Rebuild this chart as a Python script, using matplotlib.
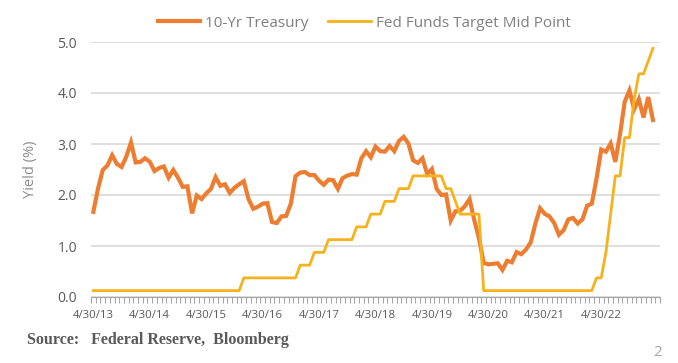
import matplotlib.pyplot as plt

# Datos mensuales, fin de mes, abr 2013 - mar 2023
treasury_10y = [
    1.67, 2.13, 2.49, 2.58, 2.78, 2.61, 2.55, 2.75, 3.03,
    2.64, 2.65, 2.72, 2.65, 2.47, 2.53, 2.56, 2.34, 2.49, 2.34, 2.16, 2.17,
    1.64, 1.99, 1.92, 2.03, 2.12, 2.35, 2.18, 2.21, 2.04, 2.14, 2.21, 2.27,
    1.92, 1.73, 1.77, 1.83, 1.84, 1.47, 1.45, 1.58, 1.59, 1.83, 2.37, 2.44,
    2.45, 2.39, 2.39, 2.28, 2.20, 2.30, 2.29, 2.12, 2.33, 2.38, 2.41, 2.40,
    2.72, 2.86, 2.74, 2.95, 2.86, 2.85, 2.96, 2.86, 3.06, 3.14, 3.01, 2.68,
    2.63, 2.72, 2.41, 2.51, 2.12, 2.00, 2.01, 1.50, 1.68, 1.69, 1.78, 1.92,
    1.51, 1.15, 0.67, 0.64, 0.65, 0.66, 0.53, 0.71, 0.68, 0.88, 0.84, 0.93,
    1.07, 1.44, 1.74, 1.63, 1.58, 1.45, 1.22, 1.31, 1.52, 1.55, 1.44, 1.52,
    1.79, 1.83, 2.32, 2.89, 2.85, 3.01, 2.65, 3.19, 3.83, 4.05, 3.68, 3.88,
    3.52, 3.92, 3.47,
]

fed_funds_mid = (
    [0.125] * 32            # abr 2013 - nov 2015
    + [0.375] * 12          # dic 2015 - nov 2016
    + [0.625] * 3
    + [0.875] * 3
    + [1.125] * 6
    + [1.375] * 3
    + [1.625] * 3
    + [1.875] * 3
    + [2.125] * 3
    + [2.375] * 7           # dic 2018 - jun 2019
    + [2.125] * 2
    + [1.875]
    + [1.625] * 5           # oct 2019 - feb 2020
    + [0.125] * 24          # mar 2020 - feb 2022
    + [0.375, 0.375, 0.875, 1.625, 2.375, 2.375, 3.125, 3.125, 3.875, 4.375,
       4.375, 4.625, 4.875]
)

year_labels = ["4/30/13", "4/30/14", "4/30/15", "4/30/16", "4/30/17",
               "4/30/18", "4/30/19", "4/30/20", "4/30/21", "4/30/22"]

orange = "#ED7D31"
gold = "#F7B21B"
gray = "#595959"

plt.rcParams['font.family'] = ['Open Sans', 'DejaVu Sans']

fig = plt.figure(figsize=(6.78, 3.63), dpi=100)
ax = fig.add_axes([91 / 678, 1 - 297 / 363, 569 / 678, 255 / 363])

x = list(range(len(treasury_10y)))
ax.plot(x, treasury_10y, color=orange, lw=3.0, label="10-Yr Treasury", solid_joinstyle="miter")
ax.plot(x, fed_funds_mid, color=gold, lw=2.0, label="Fed Funds Target Mid Point")

ax.set_xlim(-0.5, 120.5)
ax.set_ylim(0, 5.0)
ax.set_yticks([0, 1, 2, 3, 4, 5])
ax.set_yticklabels(["0.0", "1.0", "2.0", "3.0", "4.0", "5.0"])
ax.yaxis.grid(True, color="#D9D9D9", lw=1.2)
ax.set_axisbelow(True)

ax.set_xticks([i * 12 for i in range(len(year_labels))])
ax.set_xticklabels(year_labels)
ax.set_xticks([i - 0.5 for i in range(122)], minor=True)
ax.tick_params(axis="x", which="major", length=0, pad=9, labelsize=8.2, labelcolor=gray)
ax.tick_params(axis="x", which="minor", length=4, color="#A6A6A6", width=0.8)
ax.tick_params(axis="y", length=0, pad=10, labelsize=10, labelcolor=gray)

for s in ["top", "right", "left"]:
    ax.spines[s].set_visible(False)
ax.spines["bottom"].set_color("#A6A6A6")

ax.set_ylabel("Yield (%)", color="#8C8C8C", fontsize=10.5, labelpad=14)

ax.legend(loc="lower center", bbox_to_anchor=(0.48, 1.02), ncol=2, frameon=False,
          fontsize=11, labelcolor="#7F7F7F", handlelength=2.8, handletextpad=0.3,
          columnspacing=1.3, borderaxespad=0)

fig.text(27 / 678, 1 - 340 / 363, "Source:   Federal Reserve,  Bloomberg", family="Liberation Serif",
         fontweight="bold", fontsize=11.5, color=gray, va="center")
fig.text(662 / 678, 1 - 353 / 363, "2", color="#A6A6A6", fontsize=11, ha="right", va="center")

fig.savefig("out.png", dpi=100)
